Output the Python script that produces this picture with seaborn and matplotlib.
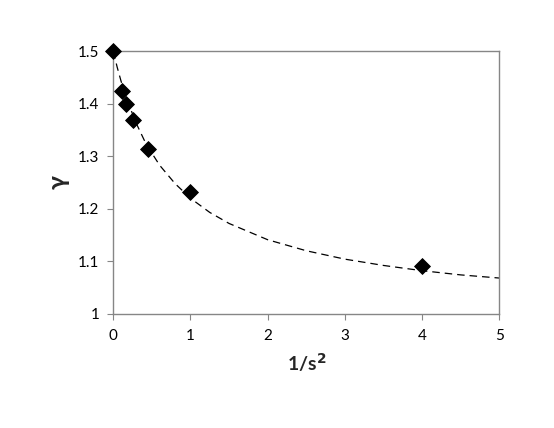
import matplotlib
matplotlib.use("Agg")
import matplotlib.pyplot as plt
import seaborn as sns
import pandas as pd

# measured points
inv_s2 = [0, 0.111, 0.16, 0.25, 0.444, 1, 4]
gamma = [1.5, 1.425, 1.40, 1.369, 1.313, 1.232, 1.0905]

# dashed fit curve
curve_x = [0, 0.05, 0.1, 0.15, 0.2, 0.3, 0.4, 0.5, 0.6, 0.8, 1.0, 1.25, 1.5,
           2, 2.5, 3, 3.5, 4, 4.5, 5]
curve_y = [1.500, 1.470, 1.4435, 1.420, 1.399, 1.362, 1.331, 1.306, 1.283,
           1.248, 1.220, 1.193, 1.172, 1.141, 1.120, 1.104, 1.092, 1.082,
           1.074, 1.068]

pts = pd.DataFrame({"x": inv_s2, "y": gamma})
fit = pd.DataFrame({"x": curve_x, "y": curve_y})

sns.set_style("white")
plt.rcParams["font.family"] = ["Lato", "DejaVu Sans"]

fig = plt.figure(figsize=(5.54, 4.28), dpi=100)
ax = fig.add_axes([0.2045, 0.267, 0.6968, 0.613])

sns.lineplot(data=fit, x="x", y="y", ax=ax, color="black", linewidth=0.9,
             linestyle=(0, (6, 4)))
sns.scatterplot(data=pts, x="x", y="y", ax=ax, marker="D", s=65,
                color="black", edgecolor="black", zorder=3, clip_on=False)

ax.set_xlim(0, 5)
ax.set_ylim(1, 1.5)
ax.set_xticks([0, 1, 2, 3, 4, 5])
ax.set_yticks([1, 1.1, 1.2, 1.3, 1.4, 1.5])
ax.set_yticklabels(["1", "1.1", "1.2", "1.3", "1.4", "1.5"])

for sp in ax.spines.values():
    sp.set_color("#868686")
    sp.set_linewidth(1.0)

ax.tick_params(axis="both", direction="out", length=4, width=0.8,
               color="#868686", labelsize=11, labelcolor="black", pad=6)
ax.tick_params(axis="x", bottom=True, pad=7)
ax.tick_params(axis="y", left=True)

ax.set_xlabel("1/s$^\\mathbf{2}$", fontsize=14, fontweight="bold", labelpad=6)
ax.set_ylabel("γ", fontsize=18, fontweight="bold", labelpad=6)

fig.savefig("out.png", dpi=100)
